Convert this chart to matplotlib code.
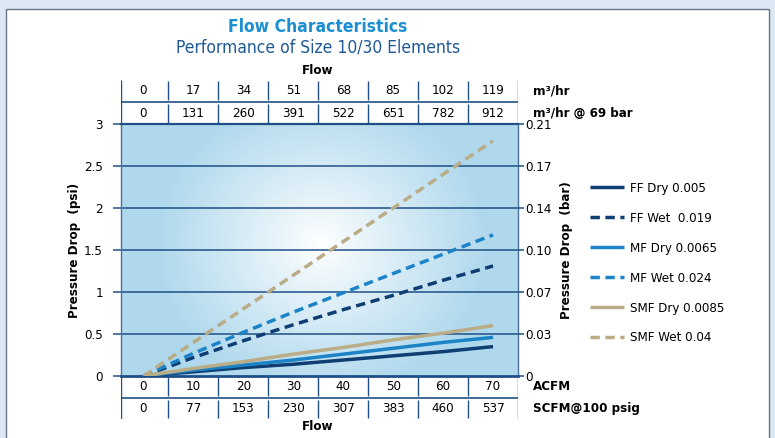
import numpy as np
import matplotlib
matplotlib.use("Agg")
import matplotlib.pyplot as plt
from matplotlib.patches import Rectangle

# flow scales (table rows)
acfm = [0, 10, 20, 30, 40, 50, 60, 70]
scfm = [0, 77, 153, 230, 307, 383, 460, 537]
m3hr = [0, 17, 34, 51, 68, 85, 102, 119]
m3hr_69bar = [0, 131, 260, 391, 522, 651, 782, 912]

psi_ticks = [0, 0.5, 1, 1.5, 2, 2.5, 3]
psi_labels = ['0', '0.5', '1', '1.5', '2', '2.5', '3']
bar_labels = ['0', '0.03', '0.07', '0.10', '0.14', '0.17', '0.21']

# pressure drop (psi) at each ACFM point
ff_dry = [0, 0.05, 0.10, 0.14, 0.19, 0.24, 0.29, 0.35]
ff_wet = [0, 0.22, 0.42, 0.61, 0.79, 0.96, 1.14, 1.31]
mf_dry = [0, 0.07, 0.13, 0.19, 0.26, 0.33, 0.40, 0.46]
mf_wet = [0, 0.27, 0.52, 0.76, 0.99, 1.22, 1.45, 1.68]
smf_dry = [0, 0.09, 0.17, 0.26, 0.34, 0.43, 0.51, 0.60]
smf_wet = [0, 0.40, 0.80, 1.20, 1.60, 2.00, 2.40, 2.80]

NAVY = '#0e3e72'
BLUE = '#1c83c6'
TAN = '#b9ac86'
GRID = '#1f4f86'

series = [
    ("FF Dry 0.005", ff_dry, NAVY, '-'),
    ("FF Wet  0.019", ff_wet, NAVY, '--'),
    ("MF Dry 0.0065", mf_dry, BLUE, '-'),
    ("MF Wet 0.024", mf_wet, BLUE, '--'),
    ("SMF Dry 0.0085", smf_dry, TAN, '-'),
    ("SMF Wet 0.04", smf_wet, TAN, '--'),
]

plt.rcParams['font.family'] = ['DejaVu Sans']
plt.rcParams['font.stretch'] = 'condensed'

W, H = 775, 438


def fx(px):
    return px / W


def fy(py):
    return 1 - py / H


fig = plt.figure(figsize=(W / 100, H / 100), dpi=100)
fig.patch.set_facecolor('#dce8f4')
fig.patches.append(Rectangle((fx(5.5), -0.05), (768.5 - 5.5) / W, fy(8.5) + 0.05,
                             transform=fig.transFigure, facecolor='white',
                             edgecolor='#667788', lw=1, zorder=-5))

X0, X1 = -4.5, 75
left, right, top_px, bot_px = 121, 518, 124, 376
ax = fig.add_axes([fx(left), fy(bot_px), (right - left) / W, (bot_px - top_px) / H])
ax.set_xlim(X0, X1)
ax.set_ylim(0, 3)

# radial background glow
nx, ny = right - left, bot_px - top_px
gx, gy = np.meshgrid(np.arange(nx), np.arange(ny))
r = np.sqrt(((gx - 200) / 165.0) ** 2 + ((gy - 120) / 150.0) ** 2)
t = np.clip(r, 0, 1) ** 0.95
edge = np.array([0.69, 0.85, 0.93])
img = 1 - t[..., None] * (1 - edge)
ax.imshow(img, extent=(X0, X1, 0, 3), aspect='auto', origin='upper', zorder=0)

for y in psi_ticks[1:-1]:
    ax.axhline(y, color=GRID, lw=1.1, zorder=1)

for label, vals, col, ls in series:
    style = (0, (2.7, 1.6)) if ls == '--' else '-'
    ax.plot(acfm, vals, color=col, lw=2.5, ls=style, label=label,
            solid_capstyle='butt', dash_capstyle='butt', zorder=3)

for side in ['left', 'right']:
    ax.spines[side].set_color('#4a6f9a')
    ax.spines[side].set_linewidth(1)
ax.spines['bottom'].set_color(GRID)
ax.spines['bottom'].set_linewidth(2)
ax.spines['top'].set_color(GRID)
ax.spines['top'].set_linewidth(1.6)

ax.set_xticks([])
ax.set_yticks(psi_ticks, psi_labels)
ax.tick_params(axis='y', direction='out', length=6, width=1.1, color=GRID,
               labelsize=9.5, pad=7)
ax.set_ylabel('Pressure Drop  (psi)', fontsize=9.5, fontweight='bold', labelpad=2)

ax2 = ax.twinx()
ax2.set_ylim(0, 3)
ax2.set_yticks(psi_ticks, bar_labels)
ax2.tick_params(axis='y', direction='out', length=4, width=1.1, color=GRID,
                labelsize=9.5, pad=1)
for s in ax2.spines.values():
    s.set_visible(False)
ax2.set_ylabel('Pressure Drop  (bar)', fontsize=9.5, fontweight='bold', labelpad=6)

mids = [(a + b) / 2 for a, b in zip(acfm[:-1], acfm[1:])]


def table(y_top, y_bot, rows, units):
    tax = fig.add_axes([fx(left), fy(y_bot), (right - left) / W, (y_bot - y_top) / H])
    tax.set_xlim(X0, X1)
    tax.set_ylim(y_bot, y_top)
    tax.axis('off')
    tax.vlines([X0, X1], y_top, y_bot, color=GRID, lw=1)
    split = (y_top + y_bot) / 2
    tax.hlines(split, X0, X1, color=GRID, lw=1.2)
    spans = [(y_top + 1, split - 2), (split + 2, y_bot - 1)]
    for (ya, yb), vals, unit in zip(spans, rows, units):
        tax.vlines(mids, ya, yb, color=GRID, lw=1)
        yc = (ya + yb) / 2
        for xv, v in zip(acfm, vals):
            tax.text(xv, yc, str(v), ha='center', va='center', fontsize=9.5)
        tax.text(78.0, yc, unit, ha='left', va='center', fontsize=9.5,
                 fontweight='bold', clip_on=False)
    return tax


table(80, 124, [m3hr, m3hr_69bar], ['m³/hr', 'm³/hr @ 69 bar'])
table(376, 419, [acfm, scfm], ['ACFM', 'SCFM@100 psig'])

fig.text(fx(318), fy(71), 'Flow', ha='center', va='center', fontsize=9.5, fontweight='bold')
fig.text(fx(318), fy(427), 'Flow', ha='center', va='center', fontsize=9.5, fontweight='bold')
fig.text(fx(318), fy(27), 'Flow Characteristics', ha='center', va='center',
         fontsize=12.5, fontweight='bold', color='#1b8fd2')
fig.text(fx(318), fy(48), 'Performance of Size 10/30 Elements', ha='center', va='center',
         fontsize=12.5, color='#1f5a96')

ax.legend(loc='upper left', bbox_to_anchor=(fx(590), fy(182)),
          bbox_transform=fig.transFigure, frameon=False, fontsize=9.5,
          borderpad=0, borderaxespad=0, handlelength=2.6, handletextpad=0.4,
          labelspacing=1.28)

fig.savefig('out.png', dpi=100, facecolor=fig.get_facecolor())
